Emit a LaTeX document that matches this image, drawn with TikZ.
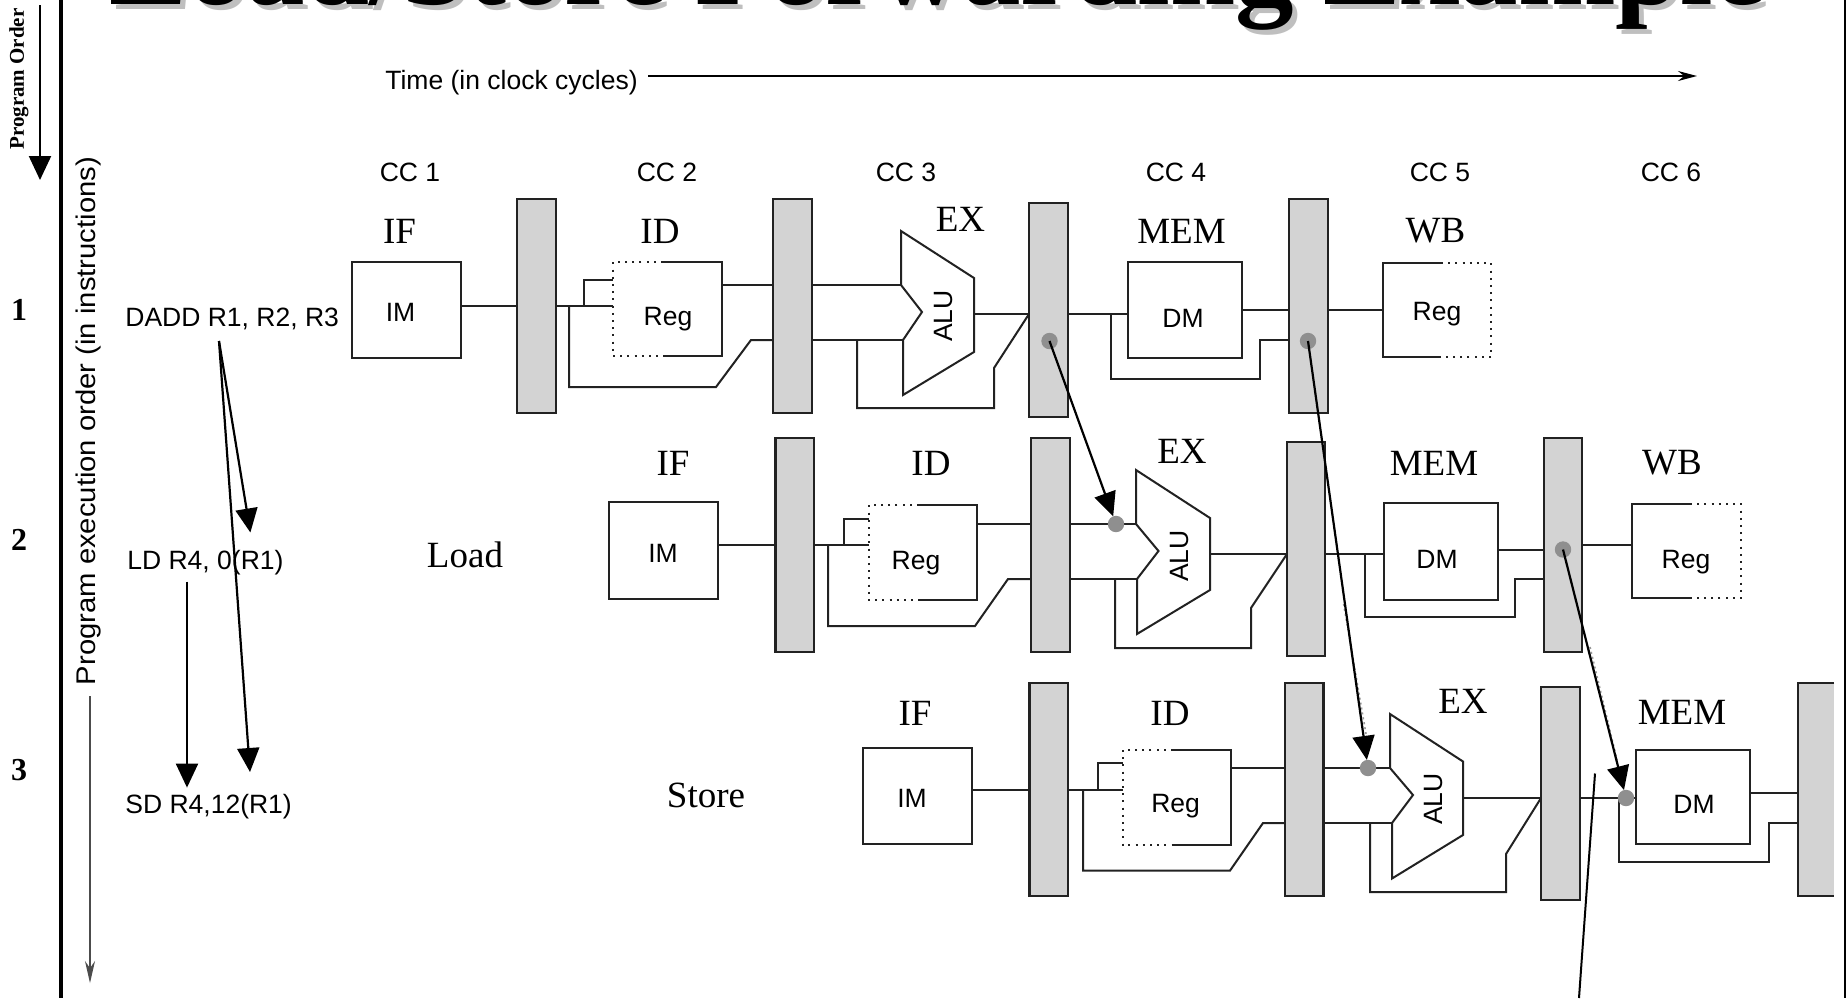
\documentclass[tikz,border=0pt]{standalone}
\usepackage{fontspec}
\setmainfont{Liberation Serif}
\setsansfont{Liberation Sans}
\newfontfamily\widesans[FakeStretch=1.083]{Liberation Sans}
\usetikzlibrary{arrows.meta}
\definecolor{latchgray}{HTML}{D3D3D3}
\definecolor{dotgray}{HTML}{8F8F8F}
\definecolor{wire}{HTML}{222222}
\tikzset{
  wireline/.style={draw=wire,line width=1pt,line join=miter},
  dotline/.style={draw=wire,line width=1pt,dash pattern=on 1pt off 2.6pt},
  latchbox/.style={draw=wire,line width=1.1pt,fill=latchgray,inner sep=0pt,outer sep=0pt},
  unitbox/.style={draw=wire,line width=1pt,fill=white,inner sep=0pt,outer sep=0pt},
  ghostbox/.style={inner sep=0pt,outer sep=0pt},
  fwddot/.style={circle,fill=dotgray,minimum size=8.2pt,inner sep=0pt,outer sep=0pt},
  aluline/.style={draw=wire,line width=1pt,fill=white,line join=miter},
  bigarrow/.style={draw=black,line width=1.1pt,-{Triangle[width=11pt,length=12pt]}},
  senselabel/.style={font=\sffamily\fontsize{13.25}{15}\selectfont,inner sep=0pt},
  stagelabel/.style={font=\rmfamily\fontsize{18.5}{21}\selectfont,inner sep=0pt},
  rownum/.style={font=\rmfamily\bfseries\fontsize{16}{18}\selectfont,inner sep=0pt},
}
\newcommand{\rectnode}[6]{%
  \pgfmathsetmacro{\rcx}{(#3+#5)/2}\pgfmathsetmacro{\rcy}{(#4+#6)/2}%
  \pgfmathsetmacro{\rw}{(#5-#3)*0.5}\pgfmathsetmacro{\rh}{(#6-#4)*0.5}%
  \node[#1,minimum width=\rw pt,minimum height=\rh pt] (#2) at (\rcx,\rcy) {};}
% name, x1,y1,x2,y2, solid-start x : register open on the left (read)
\newcommand{\regread}[6]{%
  \rectnode{ghostbox}{#1}{#2}{#3}{#4}{#5}%
  \draw[wireline] (#6,#3) -- (#1.north east) -- (#1.south east) -- (#6,#5);
  \draw[dotline] (#6,#3) -- (#1.north west) -- (#1.south west) -- (#6,#5);}
% register open on the right (write)
\newcommand{\regwrite}[6]{%
  \rectnode{ghostbox}{#1}{#2}{#3}{#4}{#5}%
  \draw[wireline] (#6,#3) -- (#1.north west) -- (#1.south west) -- (#6,#5);
  \draw[dotline] (#6,#3) -- (#1.north east) -- (#1.south east) -- (#6,#5);}
\begin{document}
\begin{tikzpicture}[x=0.5pt,y=-0.5pt]
\useasboundingbox (0,0) rectangle (1848,998);
\fill[white] (0,0) rectangle (1848,998);
% title
\begin{scope}
\clip (62,0) rectangle (1844,60);
\node[font=\rmfamily\bfseries\fontsize{58.5}{62}\selectfont,text=black!25,anchor=base,inner sep=0pt] (titleshadow) at (942.5,9.5) {Load/Store Forwarding Example};
\node[font=\rmfamily\bfseries\fontsize{58.5}{62}\selectfont,text=black,anchor=base,inner sep=0pt] (title) at (937.5,4.5) {Load/Store Forwarding Example};
\end{scope}
% frame
\coordinate (frameLtop) at (61,0); \coordinate (frameLbot) at (61,998);
\coordinate (frameRtop) at (1845,0); \coordinate (frameRbot) at (1845,998);
\draw[black,line width=2.4pt] (frameLtop) -- (frameLbot);
\draw[black,line width=0.9pt] (frameRtop) -- (frameRbot);
% program order
\node[font=\rmfamily\bfseries\fontsize{10.5}{12}\selectfont,rotate=90,inner sep=0pt] (porder) at (19,79) {Program Order};
\coordinate (poA) at (40,5); \coordinate (poB) at (40,180);
\draw[bigarrow] (poA) -- (poB);
\node[rownum] (n1) at (19,310) {1};
\node[rownum] (n2) at (19,540) {2};
\node[rownum] (n3) at (19,770) {3};
% execution order
\node[font=\widesans\fontsize{13.5}{15}\selectfont,rotate=90,inner sep=0pt] (execorder) at (89,421) {Program execution order (in instructions)};
\coordinate (exA) at (90,696); \coordinate (exB) at (90,983);
\draw[black!70,line width=0.6pt,-{Stealth[width=5pt,length=11pt]}] (exA) -- (exB);
% time
\node[senselabel] (timelab) at (511.5,83) {Time (in clock cycles)};
\coordinate (tmA) at (648,76); \coordinate (tmB) at (1697,76);
\draw[black,line width=0.9pt,-{Stealth[width=5pt,length=9.5pt]}] (tmA) -- (tmB);
\foreach \n/\x in {1/410,2/667,3/906,4/1176,5/1440,6/1671}
  \node[senselabel] (cc\n) at (\x,172) {CC \n};
% instructions
\node[senselabel,anchor=west] (idadd) at (125,319) {DADD R1, R2, R3};
\node[senselabel,anchor=west] (ild) at (127,563) {LD R4, 0(R1)};
\node[senselabel,anchor=west] (isd) at (125,807) {SD R4,12(R1)};
\node[stagelabel] (load) at (465,555) {Load};
\node[stagelabel] (store) at (706,795) {Store};
% ------ row 1
\rectnode{latchbox}{La1}{517}{199}{556}{413}
\rectnode{latchbox}{La2}{773}{199}{812}{413}
\rectnode{latchbox}{La3}{1029}{203}{1068}{417}
\rectnode{latchbox}{La4}{1289}{199}{1328}{413}
\rectnode{unitbox}{imA}{352}{262}{461}{358}
\rectnode{unitbox}{dmA}{1128}{262}{1242}{358}
\regread{rgA}{613}{262}{722}{356}{663}
\regwrite{wbA}{1383}{263}{1491}{357}{1441}
\draw[wireline] (imA.east |- 0,306) -- (La1.west |- 0,306);
\draw[wireline] (La1.east |- 0,306) -- (rgA.west |- 0,306);
\draw[wireline] (584,306) -- (584,280) -- (rgA.west |- 0,280);
\draw[wireline] (569,306) -- (569,387) -- (716,387) -- (751,340) -- (La2.west |- 0,340);
\draw[wireline] (rgA.east |- 0,285) -- (La2.west |- 0,285);
\draw[wireline] (La2.east |- 0,285) -- (901,285);
\draw[wireline] (La2.east |- 0,340) -- (903,340);
\coordinate (aluAa) at (901,231); \coordinate (aluAb) at (974,278); \coordinate (aluAc) at (974,352);
\coordinate (aluAd) at (903,395); \coordinate (aluAe) at (903,340); \coordinate (aluAf) at (922,312); \coordinate (aluAg) at (901,285);
\draw[aluline] (aluAa) -- (aluAb) -- (aluAc) -- (aluAd) -- (aluAe) -- (aluAf) -- (aluAg) -- cycle;
\draw[wireline] (974,314) -- (La3.west |- 0,314);
\draw[wireline] (857,340) -- (857,408) -- (994,408) -- (994,368) -- (La3.west |- 0,314);
\draw[wireline] (La3.east |- 0,314) -- (dmA.west |- 0,314);
\draw[wireline] (1111,314) -- (1111,379) -- (1260,379) -- (1260,340) -- (La4.west |- 0,340);
\draw[wireline] (dmA.east |- 0,310) -- (La4.west |- 0,310);
\draw[wireline] (La4.east |- 0,310) -- (wbA.west |- 0,310);
\node[fwddot] (dA3) at (1049.5,341) {};
\node[fwddot] (dA4) at (1308,341) {};
\node[stagelabel] (sA1) at (399.5,231) {IF};
\node[stagelabel] (sA2) at (660,231) {ID};
\node[stagelabel] (sA3) at (960.5,219) {EX};
\node[stagelabel] (sA4) at (1181.5,231) {MEM};
\node[stagelabel] (sA5) at (1435.5,231) {WB};
\node[senselabel] (tA1) at (400.5,312) {IM};
\node[senselabel] (tA2) at (668,319) {Reg};
\node[senselabel,rotate=90] (tA3) at (944,316) {ALU};
\node[senselabel] (tA4) at (1183,318) {DM};
\node[senselabel] (tA5) at (1437,314) {Reg};
% ------ row 2
\rectnode{latchbox}{Lb1}{775.5}{438}{814}{652}
\rectnode{latchbox}{Lb2}{1031}{438}{1070}{652}
\rectnode{latchbox}{Lb3}{1287}{442}{1325}{656}
\rectnode{latchbox}{Lb4}{1544}{438}{1582}{652}
\rectnode{unitbox}{imB}{609}{502}{718}{599}
\rectnode{unitbox}{dmB}{1384}{502.5}{1498}{600}
\regread{rgB}{869}{505}{977}{600}{919}
\regwrite{wbB}{1632}{504}{1741}{598}{1690}
\draw[wireline] (imB.east |- 0,545) -- (Lb1.west |- 0,545);
\draw[wireline] (Lb1.east |- 0,545) -- (rgB.west |- 0,545);
\draw[wireline] (844,545) -- (844,519) -- (rgB.west |- 0,519);
\draw[wireline] (828,545) -- (828,626) -- (975,626) -- (1008,579) -- (Lb2.west |- 0,579);
\draw[wireline] (rgB.east |- 0,524) -- (Lb2.west |- 0,524);
\draw[wireline] (Lb2.east |- 0,524) -- (1136,524);
\draw[wireline] (Lb2.east |- 0,579) -- (1137,579);
\coordinate (aluBa) at (1136,470); \coordinate (aluBb) at (1210,518); \coordinate (aluBc) at (1210,590);
\coordinate (aluBd) at (1137,634); \coordinate (aluBe) at (1137,579); \coordinate (aluBf) at (1158.5,551); \coordinate (aluBg) at (1136,524);
\draw[aluline] (aluBa) -- (aluBb) -- (aluBc) -- (aluBd) -- (aluBe) -- (aluBf) -- (aluBg) -- cycle;
\draw[wireline] (1210,554) -- (Lb3.west |- 0,554);
\draw[wireline] (1115,579) -- (1115,648) -- (1251,648) -- (1251,608) -- (Lb3.west |- 0,554);
\draw[wireline] (Lb3.east |- 0,554) -- (dmB.west |- 0,554);
\draw[wireline] (1365,554) -- (1365,617) -- (1514.5,617) -- (1514.5,579) -- (Lb4.west |- 0,579);
\draw[wireline] (dmB.east |- 0,549.5) -- (Lb4.west |- 0,549.5);
\draw[wireline] (Lb4.east |- 0,545) -- (wbB.west |- 0,545);
\node[fwddot] (dB2) at (1116,524) {};
\node[fwddot] (dB4) at (1563,549.5) {};
\node[stagelabel] (sB1) at (673,463) {IF};
\node[stagelabel] (sB2) at (931,463) {ID};
\node[stagelabel] (sB3) at (1182,451) {EX};
\node[stagelabel] (sB4) at (1434,463) {MEM};
\node[stagelabel] (sB5) at (1672,463) {WB};
\node[senselabel] (tB1) at (663,553) {IM};
\node[senselabel] (tB2) at (916,563) {Reg};
\node[senselabel,rotate=90] (tB3) at (1179.6,556) {ALU};
\node[senselabel] (tB4) at (1437,559) {DM};
\node[senselabel] (tB5) at (1686,562) {Reg};
% ------ row 3
\rectnode{latchbox}{Lc1}{1029.5}{683}{1068}{896}
\rectnode{latchbox}{Lc2}{1285}{683}{1323.5}{896}
\rectnode{latchbox}{Lc3}{1541}{687}{1580}{900}
\rectnode{ghostbox}{Lc4}{1798}{683}{1834}{896}
\fill[latchgray] (Lc4.north west) rectangle (Lc4.south east);
\draw[draw=wire,line width=1.1pt] (Lc4.north east) -- (Lc4.north west) -- (Lc4.south west) -- (Lc4.south east);
\rectnode{unitbox}{imC}{863}{748}{972}{844}
\rectnode{unitbox}{dmC}{1636}{750}{1749.5}{844}
\regread{rgC}{1122.6}{750}{1231}{845}{1173}
\draw[wireline] (imC.east |- 0,789.5) -- (Lc1.west |- 0,789.5);
\draw[wireline] (Lc1.east |- 0,789.5) -- (rgC.west |- 0,789.5);
\draw[wireline] (1098,789.5) -- (1098,763) -- (rgC.west |- 0,763);
\draw[wireline] (1083,789.5) -- (1083,870.6) -- (1230,870.6) -- (1263,823) -- (Lc2.west |- 0,823);
\draw[wireline] (rgC.east |- 0,768) -- (Lc2.west |- 0,768);
\draw[wireline] (Lc2.east |- 0,768) -- (1390,768);
\draw[wireline] (Lc2.east |- 0,823) -- (1392,823);
\coordinate (aluCa) at (1390,714); \coordinate (aluCb) at (1463,761.5); \coordinate (aluCc) at (1463,835);
\coordinate (aluCd) at (1392,878.5); \coordinate (aluCe) at (1392,823); \coordinate (aluCf) at (1413,795); \coordinate (aluCg) at (1390,768);
\draw[aluline] (aluCa) -- (aluCb) -- (aluCc) -- (aluCd) -- (aluCe) -- (aluCf) -- (aluCg) -- cycle;
\draw[wireline] (1463,798) -- (Lc3.west |- 0,798);
\draw[wireline] (1370,823) -- (1370,892) -- (1506,892) -- (1506,854) -- (Lc3.west |- 0,798);
\draw[wireline] (Lc3.east |- 0,798) -- (dmC.west |- 0,798);
\draw[wireline] (1619,798) -- (1619,862) -- (1768.5,862) -- (1768.5,823) -- (Lc4.west |- 0,823);
\draw[wireline] (dmC.east |- 0,793) -- (Lc4.west |- 0,793);
\node[fwddot] (dC2) at (1368,768) {};
\node[fwddot] (dC4) at (1626,798) {};
\node[stagelabel] (sC1) at (915,713) {IF};
\node[stagelabel] (sC2) at (1170,713) {ID};
\node[stagelabel] (sC3) at (1463,701) {EX};
\node[stagelabel] (sC4) at (1682,712) {MEM};
\node[senselabel] (tC1) at (912,798) {IM};
\node[senselabel] (tC2) at (1175.6,806) {Reg};
\node[senselabel,rotate=90] (tC3) at (1433,799) {ALU};
\node[senselabel] (tC4) at (1694,804) {DM};
% ------ faint dotted traces beside the forwarding arrows
\coordinate (gA) at (1343.6,604); \coordinate (gB) at (1366,734);
\coordinate (gC) at (1590,647); \coordinate (gD) at (1617,760);
\draw[black!40,line width=0.8pt,dash pattern=on 1pt off 1.5pt] (gA) -- (gB);
\draw[black!40,line width=0.8pt,dash pattern=on 1pt off 1.5pt] (gC) -- (gD);
% ------ forwarding arrows
\draw[bigarrow] (dA3.center) -- (dB2);
\draw[bigarrow] (dA4.center) -- (dC2);
\draw[bigarrow] (dB4.center) -- (dC4);
% ------ dependence arrows at left
\coordinate (depA) at (219,341); \coordinate (depB) at (250.4,532.5); \coordinate (depC) at (250,772);
\coordinate (depD) at (187,581.5); \coordinate (depE) at (187,787.6);
\draw[bigarrow] (depA) -- (depB);
\draw[bigarrow] (depA) -- (depC);
\draw[bigarrow] (depD) -- (depE);
% ------ stray line at the bottom
\coordinate (strayA) at (1595,773.5); \coordinate (strayB) at (1579,998);
\draw[black,line width=1pt] (strayA) -- (strayB);
\end{tikzpicture}
\end{document}
